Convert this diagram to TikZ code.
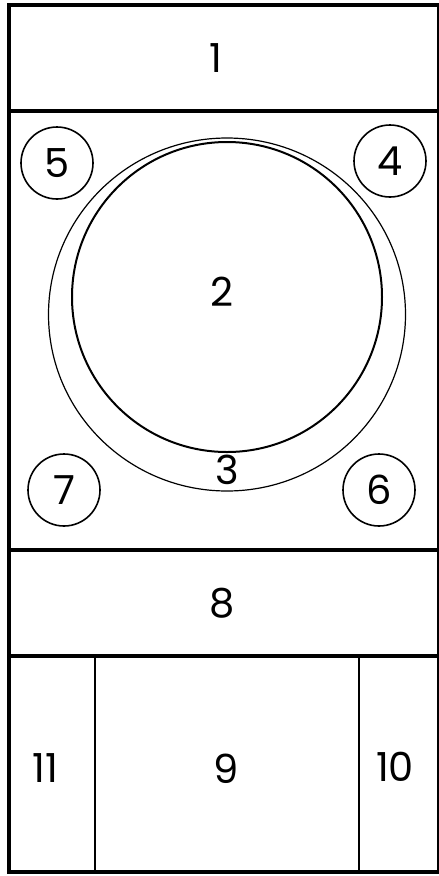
\documentclass[tikz,border=0pt]{standalone}
\usepackage{fontspec}
\setmainfont{Poppins}
\begin{document}
\begin{tikzpicture}[x=1pt,y=-1pt,
  lbl/.style={font=\fontsize{40}{44}\selectfont, inner sep=0pt},
  ring/.style={circle, draw, line width=1.6pt, minimum size=72pt, inner sep=0pt, font=\fontsize{40}{44}\selectfont},
  thick frame/.style={line width=4.5pt},
  divider/.style={line width=3.2pt},
  thin divider/.style={line width=2.2pt}]
\useasboundingbox (0,0) rectangle (439,876);
% frame
\draw[line width=1.6pt] (438,4) -- (438,872);
\draw[thick frame, line cap=rect] (9,872) -- (9,5) -- (438,5);
\draw[divider, line cap=rect] (9,872) -- (438,872);
\draw[divider] (9,111) -- (439,111);
\draw[divider] (9,550) -- (439,550);
\draw[divider] (9,656) -- (439,656);
\draw[thin divider] (95,656) -- (95,872);
\draw[thin divider] (359,656) -- (359,872);
% big circles
\draw[line width=1.2pt] (227,314.5) ellipse [x radius=178.5, y radius=176.5];
\draw[line width=2pt] (227,297) circle [radius=155];
% labels
\node[lbl] (n1) at (216,58) {1};
\node[lbl] (n2) at (222,292) {2};
\node[lbl] (n3) at (227,470) {3};
\node[ring] (n5) at (57,163) {5};
\node[ring] (n4) at (390,161) {4};
\node[ring] (n7) at (64,490) {7};
\node[ring] (n6) at (379,490) {6};
\node[lbl] (n8) at (222,603) {8};
\node[lbl] (n11) at (45,768) {11};
\node[lbl] (n9) at (226,769) {9};
\node[lbl] (n10) at (395,767) {10};
\end{tikzpicture}
\end{document}
